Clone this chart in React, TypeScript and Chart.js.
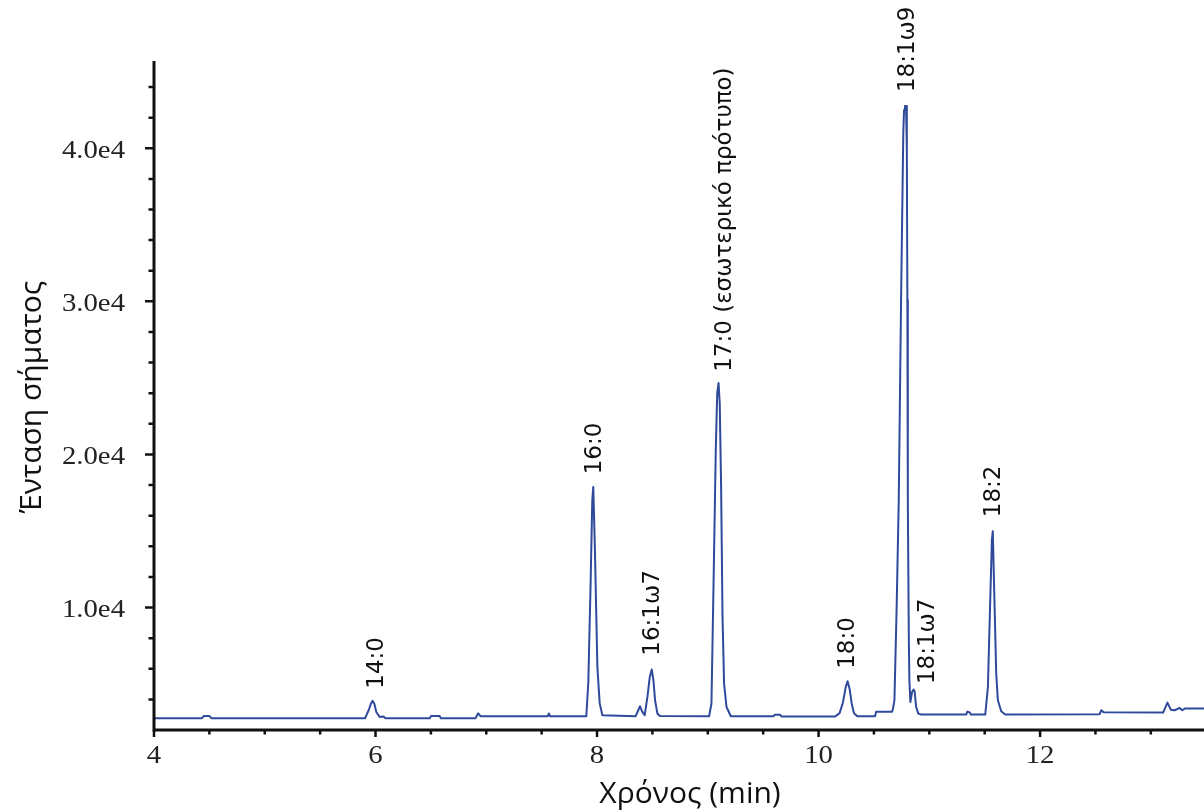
import { useEffect, useRef } from "react";
import { Chart, registerables } from "chart.js";

Chart.register(...registerables);

// Chromatogram trace: retention time (min) and detector signal
const retentionTimes = [
  4.0, 4.43, 4.45, 4.5, 4.52, 5.905, 5.938, 5.96, 5.974, 5.99, 6.007, 6.037, 6.073, 6.09,
  6.49, 6.5, 6.58, 6.59, 6.902, 6.927, 6.948, 7.555, 7.565, 7.575,
  7.903, 7.921, 7.942, 7.957, 7.966, 7.981, 8.003, 8.024, 8.048,
  8.349, 8.388, 8.409, 8.43, 8.455, 8.476, 8.494, 8.509, 8.524, 8.545, 8.569,
  9.012, 9.033, 9.052, 9.072, 9.085, 9.097, 9.108, 9.12, 9.133, 9.147, 9.169, 9.208,
  9.595, 9.605, 9.655, 9.665,
  10.15, 10.19, 10.22, 10.245, 10.262, 10.28, 10.3, 10.32, 10.35,
  10.51, 10.52, 10.665, 10.675, 10.685, 10.705, 10.724, 10.745, 10.765, 10.772, 10.78, 10.79,
  10.797, 10.802, 10.806, 10.815, 10.82, 10.829, 10.845, 10.858, 10.868, 10.881, 10.901, 10.926,
  11.333, 11.343, 11.365, 11.375,
  11.505, 11.529, 11.55, 11.565, 11.573, 11.588, 11.604, 11.619, 11.649, 11.685,
  12.538, 12.553, 12.574, 13.111, 13.15, 13.18, 13.216, 13.261, 13.283, 13.306, 13.48,
];
const signal = [
  2760, 2760, 2910, 2910, 2760, 2760, 3290, 3750, 3900, 3700, 3180, 2850, 2880, 2760,
  2760, 2910, 2910, 2760, 2760, 3090, 2900, 2900, 3080, 2900,
  2900, 5050, 11590, 17000, 17880, 13750, 6120, 3740, 2960,
  2900, 3550, 3180, 2960, 4160, 5460, 5950, 5250, 3940, 3070, 2920,
  2900, 3730, 11590, 20280, 24000, 24660, 23300, 18000, 9390, 5030, 3500, 2900,
  2900, 3000, 3000, 2880,
  2880, 3100, 3800, 4800, 5180, 4700, 3700, 3100, 2900,
  2900, 3200, 3200, 3500, 3950, 10000, 17000, 30100, 41000, 42500, 42760, 42760,
  40000, 30100, 17000, 8000, 5250, 3830, 4500, 4650, 4500, 3500, 3070, 3010,
  3010, 3200, 3150, 3010,
  3010, 4810, 10480, 14400, 14990, 10480, 5690, 3940, 3220, 3010,
  3030, 3290, 3160, 3140, 3790, 3330, 3290, 3440, 3290, 3400, 3400,
];

// Axis ticks
const xMajorTicks = [4, 6, 8, 10, 12];
const xTickLabels = ["4", "6", "8", "10", "12"];
const xMinorTicks = [4.5, 5, 5.5, 6.5, 7, 7.5, 8.5, 9, 9.5, 10.5, 11, 11.5, 12.5, 13];
const yMajorTicks = [10000, 20000, 30000, 40000];
const yTickLabels = ["1.0e4", "2.0e4", "3.0e4", "4.0e4"];
const yMinorTicks = [
  4000, 6000, 8000, 12000, 14000, 16000, 18000, 22000, 24000, 26000, 28000,
  32000, 34000, 36000, 38000, 42000, 44000,
];

// Peak annotations (label bottom-centre anchor in data units)
const peakNames = ["14:0", "16:0", "16:1ω7", "17:0 (εσωτερικό πρότυπο)", "18:0", "18:1ω9", "18:1ω7", "18:2"];
const peakLabelX = [5.998, 7.966, 8.485, 9.14, 10.248, 10.79, 10.966, 11.568];
const peakLabelY = [4700, 18700, 6850, 25400, 6000, 43670, 5000, 15900];

const xTitle = "Χρόνος (min)";
const yTitle = "Ένταση σήματος";

const LINE_COLOR = "#2f4a9b";

const decorPlugin = {
  id: "decor",
  afterDraw(chart: any) {
    const ctx = chart.ctx as CanvasRenderingContext2D;
    const xs = chart.scales.x;
    const ys = chart.scales.y;
    const area = chart.chartArea;
    ctx.save();
    // axis lines
    ctx.strokeStyle = "#111";
    ctx.lineWidth = 3;
    ctx.lineCap = "butt";
    ctx.beginPath();
    ctx.moveTo(area.left, area.top);
    ctx.lineTo(area.left, area.bottom + 1.5);
    ctx.moveTo(area.left - 1.5, area.bottom);
    ctx.lineTo(area.right, area.bottom);
    ctx.stroke();

    // y ticks
    ctx.lineWidth = 2.5;
    ctx.beginPath();
    yMajorTicks.forEach((v) => {
      const p = ys.getPixelForValue(v);
      ctx.moveTo(area.left - 9, p);
      ctx.lineTo(area.left, p);
    });
    yMinorTicks.forEach((v) => {
      const p = ys.getPixelForValue(v);
      ctx.moveTo(area.left - 5.5, p);
      ctx.lineTo(area.left, p);
    });
    // x ticks
    xMajorTicks.forEach((v) => {
      const p = xs.getPixelForValue(v);
      ctx.moveTo(p, area.bottom);
      ctx.lineTo(p, area.bottom + 7);
    });
    xMinorTicks.forEach((v) => {
      const p = xs.getPixelForValue(v);
      ctx.moveTo(p, area.bottom);
      ctx.lineTo(p, area.bottom + 4.5);
    });
    ctx.stroke();

    // tick labels (Times-like, horizontally stretched)
    ctx.fillStyle = "#222";
    ctx.font = "25px 'Liberation Serif', 'Times New Roman', serif";
    ctx.textBaseline = "alphabetic";
    yMajorTicks.forEach((v, i) => {
      const p = ys.getPixelForValue(v);
      ctx.save();
      ctx.translate(area.left - 29, p + 9.5);
      ctx.scale(1.15, 1);
      ctx.textAlign = "right";
      ctx.fillText(yTickLabels[i], 0, 0);
      ctx.restore();
    });
    xMajorTicks.forEach((v, i) => {
      const p = xs.getPixelForValue(v);
      ctx.save();
      ctx.translate(p, area.bottom + 33);
      ctx.scale(1.15, 1);
      ctx.textAlign = "center";
      ctx.fillText(xTickLabels[i], 0, 0);
      ctx.restore();
    });

    // axis titles
    ctx.fillStyle = "#111";
    ctx.font = "30px 'Open Sans', sans-serif";
    ctx.textAlign = "center";
    ctx.fillText(xTitle, 690, 803);
    ctx.save();
    ctx.translate(41, 397);
    ctx.rotate(-Math.PI / 2);
    ctx.fillText(yTitle, 0, 0);
    ctx.restore();

    // peak labels
    ctx.font = "23px 'DejaVu Sans', sans-serif";
    ctx.textAlign = "left";
    ctx.fillStyle = "#111";
    peakNames.forEach((name, i) => {
      const px = xs.getPixelForValue(peakLabelX[i]);
      const py = ys.getPixelForValue(peakLabelY[i]);
      ctx.save();
      ctx.translate(px + 8, py);
      ctx.rotate(-Math.PI / 2);
      ctx.fillText(name, 0, 0);
      ctx.restore();
    });
    ctx.restore();
  },
};

export default function App() {
  const canvasRef = useRef<HTMLCanvasElement | null>(null);

  useEffect(() => {
    if (!canvasRef.current) return;
    const points = retentionTimes.map((t, i) => ({ x: t, y: signal[i] }));
    const chart = new Chart(canvasRef.current, {
      type: "line",
      data: {
        datasets: [
          {
            data: points,
            borderColor: LINE_COLOR,
            borderWidth: 2,
            pointRadius: 0,
            tension: 0,
            fill: false,
            borderJoinStyle: "round",
          },
        ],
      },
      options: {
        animation: false,
        responsive: false,
        devicePixelRatio: 1,
        layout: { padding: { left: 154, top: 61, right: 0, bottom: 82 } },
        plugins: { legend: { display: false }, tooltip: { enabled: false } },
        scales: {
          x: { type: "linear", min: 4, max: 13.48, display: false },
          y: { type: "linear", min: 2000, max: 45700, display: false },
        },
      },
      plugins: [decorPlugin],
    } as any);
    return () => chart.destroy();
  }, []);

  return (
    <div style={{ position: "absolute", left: 0, top: 0, width: 1204, height: 812, background: "#fff" }}>
      <canvas ref={canvasRef} width={1204} height={812} />
    </div>
  );
}
